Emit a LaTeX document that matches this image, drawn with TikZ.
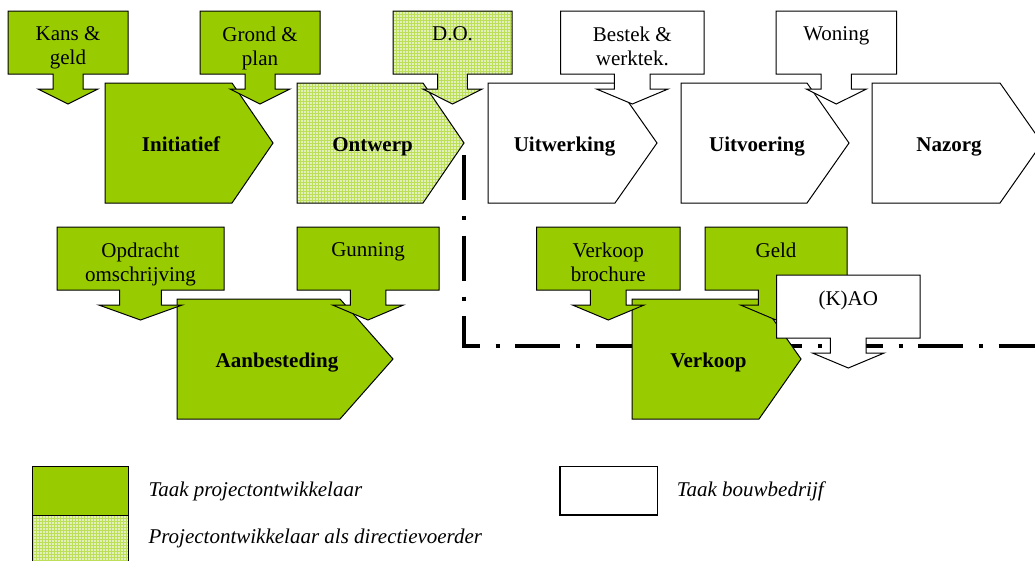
\documentclass[tikz,border=0pt]{standalone}
\usepackage{fontspec}
\setmainfont{Liberation Serif}
\usetikzlibrary{patterns}
\definecolor{taakgreen}{RGB}{153,204,0}
\definecolor{palegreen}{RGB}{226,240,186}

% phase pentagon: name, left, top, body width, tip width, style, label
\newcommand{\phasebox}[7]{%
  \draw[#6] (#2,#3) -- ++(#4,0) -- ++(#5,60) -- ++(-#5,60) -- ++(-#4,0) -- cycle;
  \node[phaselabel] (#1) at ({#2+#4/2+#5/2-8},{#3+68}) {#7};}

% callout arrow: name, centre x, top, half width, style, text
\newcommand{\calloutbox}[6]{%
  \draw[#5] ({#2-#4},#3) -- ({#2+#4},#3) -- ({#2+#4},{#3+63}) -- ({#2+#4/4},{#3+63})
    -- ({#2+#4/4},{#3+78}) -- ({#2+#4/2},{#3+78}) -- (#2,{#3+93}) -- ({#2-#4/2},{#3+78})
    -- ({#2-#4/4},{#3+78}) -- ({#2-#4/4},{#3+63}) -- ({#2-#4},{#3+63}) -- cycle;
  \node[calloutlabel] (#1) at (#2,{#3+15.7}) {#6};}

\begin{document}
\begin{tikzpicture}[x=1pt, y=-1pt,
    greenbox/.style={draw, line width=1pt, fill=taakgreen},
    hatchbox/.style={draw, line width=1pt, preaction={fill=palegreen}, pattern=grid, pattern color=taakgreen!65},
    whitebox/.style={draw, line width=1pt, fill=white},
    phaselabel/.style={anchor=base, inner sep=0pt, font=\fontsize{21}{24}\selectfont\bfseries},
    calloutlabel/.style={anchor=north, inner sep=0pt, align=center, font=\fontsize{21}{24}\selectfont},
    legendlabel/.style={anchor=base west, inner sep=0pt, font=\fontsize{21}{24}\selectfont\itshape},
    dashdot/.style={line width=4pt, dash pattern=on 45pt off 16pt on 4pt off 15.6pt}]
  \clip (0,0) rectangle (1035,560);

  % boundary of the bouwbedrijf part
  \coordinate (dstart) at (464.3,155);
  \coordinate (dcorner) at (464.3,346);
  \coordinate (dend) at (1040,346);
  \draw[dashdot] (dstart) -- (dcorner) -- (dend);

  % phases
  \phasebox{initiatief}{105}{83}{127}{41}{greenbox}{Initiatief}
  \phasebox{ontwerp}{297}{83}{126}{41}{hatchbox}{Ontwerp}
  \phasebox{uitwerking}{488}{83}{127}{42}{whitebox}{Uitwerking}
  \phasebox{uitvoering}{681}{83}{126}{42}{whitebox}{Uitvoering}
  \phasebox{nazorg}{872}{83}{128}{42}{whitebox}{Nazorg}
  \phasebox{aanbesteding}{177}{299}{163}{53}{greenbox}{Aanbesteding}
  \phasebox{verkoop}{632}{299}{127}{42}{greenbox}{Verkoop}

  % inputs
  \calloutbox{kans}{68}{11}{60}{greenbox}{Kans \&\\geld}
  \calloutbox{grond}{260}{11}{60}{greenbox}{Grond \&\\plan}
  \calloutbox{do}{452.5}{11}{59.5}{hatchbox}{D.O.}
  \calloutbox{bestek}{632.3}{11}{71.7}{whitebox}{Bestek \&\\werktek.}
  \calloutbox{woning}{836.3}{11}{60.3}{whitebox}{Woning}
  \calloutbox{opdracht}{140.5}{227}{83.5}{greenbox}{Opdracht\\omschrijving}
  \calloutbox{gunning}{368}{227}{71}{greenbox}{Gunning}
  \calloutbox{brochure}{608.3}{227}{71.7}{greenbox}{Verkoop\\brochure}
  \calloutbox{geld}{776}{227}{71}{greenbox}{Geld}
  \calloutbox{kao}{848.3}{275}{71.7}{whitebox}{(K)AO}

  % legend
  \draw[greenbox] (32.3,466.7) rectangle (128.3,515);
  \draw[hatchbox] (32.3,515) rectangle (128.3,580);
  \draw[whitebox, line width=1.5pt] (560,466.7) rectangle (657.3,515);
  \node[legendlabel] (taakpo) at (148.3,496.7) {Taak projectontwikkelaar};
  \node[legendlabel] (taakdv) at (148.3,543.3) {Projectontwikkelaar als directievoerder};
  \node[legendlabel] (taakbb) at (676.7,496.7) {Taak bouwbedrijf};
\end{tikzpicture}
\end{document}
